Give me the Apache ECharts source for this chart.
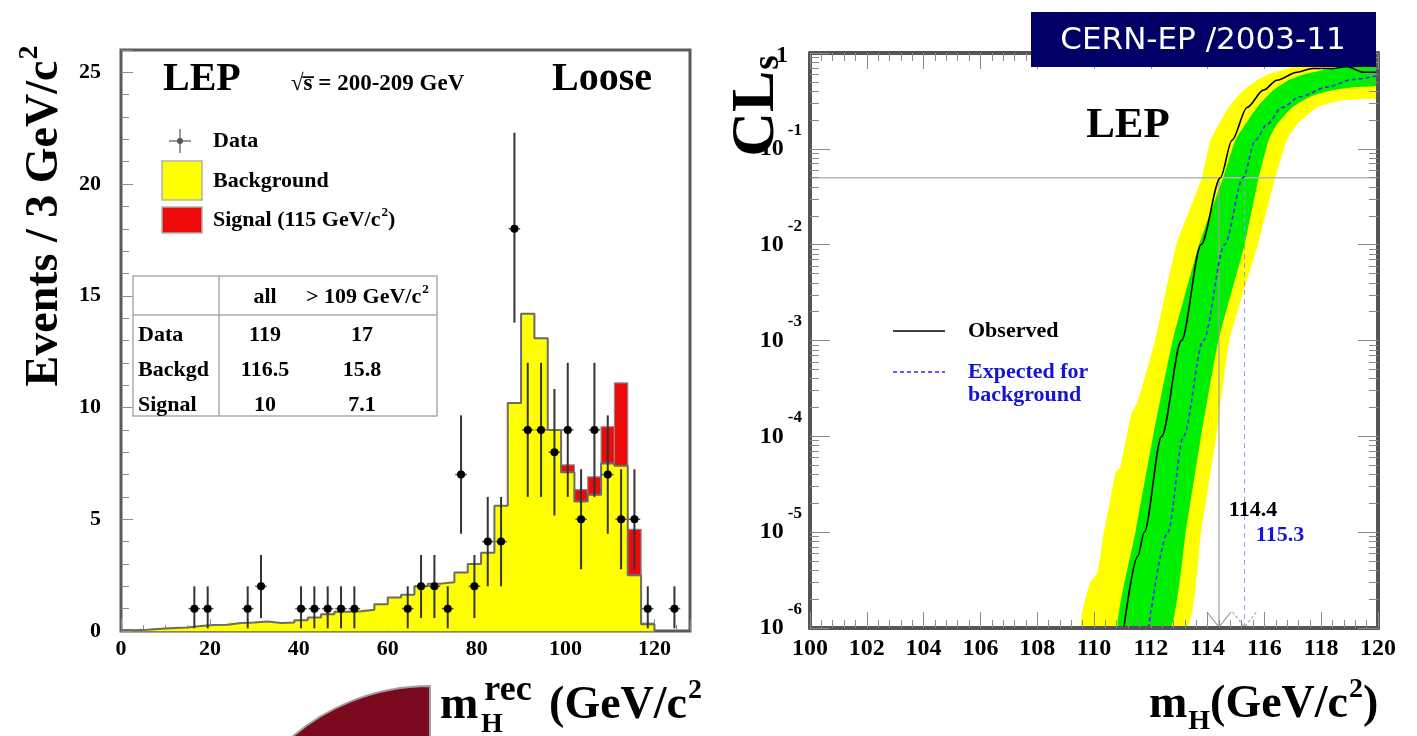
<!DOCTYPE html>
<html><head><meta charset="utf-8">
<script src="https://cdn.jsdelivr.net/npm/echarts@6/dist/echarts.min.js"></script>
<style>html,body{margin:0;padding:0;background:#fff;}#c{width:1417px;height:736px;}</style>
</head><body><div id="c"></div>
<script>
const FONT = 'Liberation Serif';

// ---------------- LEFT PANEL: reconstructed mass histogram (3 GeV bins) ----------------
const binStart = [0,3,6,9,12,15,18,21,24,27,30,33,36,39,42,45,48,51,54,57,60,63,66,69,72,75,78,81,84,87,90,93,96,99,102,105,108,111,114,117];
const binWidth = 3;
const backgroundCounts = [0.03,0.06,0.10,0.13,0.16,0.22,0.27,0.28,0.36,0.38,0.43,0.36,0.38,0.48,0.60,0.75,0.86,0.88,0.95,1.20,1.50,1.62,2.00,2.12,2.18,2.62,3.00,3.50,5.60,10.2,14.2,13.1,9.00,7.10,5.80,6.10,7.50,7.40,2.50,0.30];
const signalCounts = [0,0,0,0,0,0,0,0,0,0,0,0,0,0,0,0,0,0,0,0,0,0,0,0,0,0,0,0,0,0,0,0,0,0.33,0.53,0.80,1.64,3.70,2.05,0.05];
const dataMass = [16.5,19.5,28.5,31.5,40.5,43.5,46.5,49.5,52.5,64.5,67.5,70.5,73.5,76.5,79.5,82.5,85.5,88.5,91.5,94.5,97.5,100.5,103.5,106.5,109.5,112.5,115.5,118.5,124.5];
const dataCounts = [1,1,1,2,1,1,1,1,1,1,2,2,1,7,2,4,4,18,9,9,8,9,5,9,7,5,5,1,1];
const dataErrLow = [0.12,0.12,0.12,0.58,0.12,0.12,0.12,0.12,0.12,0.12,0.58,0.58,0.12,4.35,0.58,2.0,2.0,13.8,6.0,6.0,5.17,6.0,2.76,6.0,4.35,2.76,2.76,0.12,0.12];
const dataErrHigh = [2.0,2.0,2.0,3.4,2.0,2.0,2.0,2.0,2.0,2.0,3.4,3.4,2.0,9.65,3.4,6.0,6.0,22.3,12.0,12.0,10.83,12.0,7.24,12.0,9.65,7.24,7.24,2.0,2.0];
const tableHeader = ['all', '> 109 GeV/c'];
const tableRows = ['Data', 'Backgd', 'Signal'];
const tableAll = ['119', '116.5', '10'];
const tableHigh = ['17', '15.8', '7.1'];

// ---------------- RIGHT PANEL: CLs vs mH ----------------
const yellowUpperM  = [109.57,109.85,110.12,110.31,110.77,110.92,111.31,111.54,112.15,112.9,113.8,114.1,114.74,115.27,115.74,116.2,116.97,117.6,120];
const yellowUpperCL = [1e-6,2.95e-6,3.8e-6,8.5e-6,4.3e-5,4.7e-5,1.7e-4,2.3e-4,1e-3,1e-2,0.05,0.123,0.27,0.41,0.52,0.61,0.71,0.9,0.95];
const yellowLowerM  = [113.26,113.77,114.31,114.77,115.77,116.38,116.79,117.15,117.85,118.67,119.5,120];
const yellowLowerCL = [1e-6,1e-5,1e-4,1e-3,1e-2,0.05,0.123,0.18,0.27,0.32,0.33,0.34];
const greenUpperM   = [110.85,111.46,112.08,112.77,113.7,114.55,114.98,115.74,116.32,116.85,117.5,118.4,120];
const greenUpperCL  = [1e-6,1e-5,1e-4,1e-3,1e-2,0.05,0.123,0.27,0.41,0.52,0.61,0.69,0.74];
const greenLowerM   = [112.69,113.23,113.77,114.38,115.3,115.8,116.15,116.44,116.97,117.61,118.43,119.13,120];
const greenLowerCL  = [1e-6,1e-5,1e-4,1e-3,1e-2,0.05,0.123,0.18,0.27,0.35,0.41,0.44,0.46];
const observedM  = [111.05,111.54,111.77,112.38,113.08,113.77,114.45,114.86,115.39,115.97,116.44,117.15,117.7,118.4,118.9,119.5,120];
const observedCL = [1e-6,5.6e-6,1e-5,1e-4,1e-3,1e-2,0.05,0.123,0.27,0.41,0.52,0.63,0.69,0.69,0.72,0.63,0.63];
const expectedM  = [111.92,112.6,113.15,113.85,114.6,115.25,115.68,116.09,116.62,117.26,118.2,119.13,120];
const expectedCL = [1e-6,1e-5,1e-4,1e-3,1e-2,0.05,0.123,0.18,0.27,0.35,0.44,0.53,0.58];
const clsLimit = 0.05;
const observedLimit = 114.4;
const expectedLimit = 115.3;

// ---------------- helpers ----------------
const chart = echarts.init(document.getElementById('c'), null, {renderer: 'canvas'});
const bold = (size, color) => ({fontFamily: FONT, fontWeight: 'bold', fontSize: size, fill: color || '#000'});
// middle-aligned rich tokens; sup/sub shifted via asymmetric padding
function richSet(base, color, subShift) {
  const c = color || '#000';
  const small = Math.round(base * 0.6);
  const up = Math.round(base * 0.33);
  const down = Math.round(base * (subShift || 0.37));
  return {
    a: {fontFamily: FONT, fontWeight: 'bold', fontSize: base, lineHeight: base, color: c},
    p: {fontFamily: FONT, fontWeight: 'bold', fontSize: small, lineHeight: small, color: c, padding: [0, 0, 2 * up, 1]},
    s: {fontFamily: FONT, fontWeight: 'bold', fontSize: small, lineHeight: small, color: c, padding: [2 * down, 0, 0, 1]},
    r: {fontFamily: FONT, fontWeight: 'bold', fontSize: Math.round(base * 0.78), lineHeight: Math.round(base * 0.78), color: c, padding: [0, 6, 2 * up, 6]}
  };
}
function txt(x, y, text, size, opt) {
  opt = opt || {};
  return {type: 'text', x: x, y: y, rotation: opt.rotation || 0, z: 50,
    style: Object.assign(bold(size, opt.color), {text: text, align: opt.align || 'left', verticalAlign: 'middle',
      rich: opt.rich ? richSet(size, opt.color, opt.subShift) : undefined})};
}
function band(upM, upC, loM, loC, color) {
  return {type: 'custom', xAxisIndex: 1, yAxisIndex: 1, clip: true, silent: true, z: 1,
    data: [[upM[0], upC[0]]],
    renderItem: function (params, api) {
      const pts = [];
      for (let i = 0; i < upM.length; i++) pts.push(api.coord([upM[i], upC[i]]));
      for (let i = loM.length - 1; i >= 0; i--) pts.push(api.coord([loM[i], loC[i]]));
      return {type: 'polygon', shape: {points: pts, smooth: 0.15}, style: {fill: color}};
    }};
}

const histRows = binStart.map((s, i) => [s, s + binWidth, backgroundCounts[i], signalCounts[i]]);
const outline = binStart.map((s, i) => [s, backgroundCounts[i]]).concat([[binStart[binStart.length - 1] + binWidth, 0]]);
const pointRows = dataMass.map((m, i) => [m, dataCounts[i], dataErrLow[i], dataErrHigh[i]]);

const tickGray = '#8a8a8a';
const frame = {show: true, lineStyle: {color: '#555', width: 4}};

const option = {
  animation: false,
  backgroundColor: '#fff',
  grid: [
    {left: 121, top: 50, width: 569, height: 581, show: true, borderColor: '#5a5a5a', borderWidth: 3, backgroundColor: 'transparent'},
    {left: 810, top: 53, width: 568, height: 575, show: false}
  ],
  xAxis: [
    {gridIndex: 0, type: 'value', min: 0, max: 128, interval: 20, axisLine: {show: false},
     axisTick: {inside: true, length: 12, lineStyle: {color: tickGray}},
     minorTick: {show: true, splitNumber: 4, length: 6, lineStyle: {color: tickGray}},
     splitLine: {show: false},
     axisLabel: {margin: 7, showMaxLabel: false, fontFamily: FONT, fontWeight: 'bold', fontSize: 22, color: '#000'}},
    {gridIndex: 1, type: 'value', min: 100, max: 120, interval: 2, z: 10, axisLine: frame,
     axisTick: {inside: true, length: 16, lineStyle: {color: tickGray}},
     minorTick: {show: true, splitNumber: 5, length: 8, lineStyle: {color: tickGray}},
     splitLine: {show: false},
     axisLabel: {margin: 9, fontFamily: FONT, fontWeight: 'bold', fontSize: 24, color: '#000'}},
    {gridIndex: 1, type: 'value', position: 'top', min: 100, max: 120, interval: 2, z: 10, axisLine: frame,
     axisTick: {inside: true, length: 16, lineStyle: {color: tickGray}},
     minorTick: {show: true, splitNumber: 5, length: 8, lineStyle: {color: tickGray}},
     splitLine: {show: false}, axisLabel: {show: false}}
  ],
  yAxis: [
    {gridIndex: 0, type: 'value', min: 0, max: 26, interval: 5, axisLine: {show: false},
     axisTick: {inside: true, length: 12, lineStyle: {color: tickGray}},
     minorTick: {show: true, splitNumber: 5, length: 8, lineStyle: {color: tickGray}},
     splitLine: {show: false},
     axisLabel: {margin: 20, showMaxLabel: false, fontFamily: FONT, fontWeight: 'bold', fontSize: 22, color: '#000'}},
    {gridIndex: 1, type: 'log', logBase: 10, min: 1e-6, max: 1, z: 10, axisLine: frame,
     axisTick: {inside: true, length: 20, lineStyle: {color: tickGray}},
     minorTick: {show: true, splitNumber: 9, length: 9, lineStyle: {color: tickGray}},
     splitLine: {show: false},
     axisLabel: {margin: 8, color: '#000',
       formatter: function (v) { const e = Math.round(Math.log10(v)); return e === 0 ? '{o|1}' : '{b|10}{e|' + e + '}'; },
       rich: {
         b: {fontFamily: FONT, fontWeight: 'bold', fontSize: 24, lineHeight: 24, color: '#000'},
         e: {fontFamily: FONT, fontWeight: 'bold', fontSize: 17, lineHeight: 17, color: '#000', padding: [0, 0, 37, 4]},
         o: {fontFamily: FONT, fontWeight: 'bold', fontSize: 24, lineHeight: 24, color: '#000', padding: [6, 14, 0, 0]}
       }}},
    {gridIndex: 1, type: 'log', logBase: 10, position: 'right', min: 1e-6, max: 1, z: 10, axisLine: frame,
     axisTick: {inside: true, length: 20, lineStyle: {color: tickGray}},
     minorTick: {show: true, splitNumber: 9, length: 9, lineStyle: {color: tickGray}},
     splitLine: {show: false}, axisLabel: {show: false}}
  ],
  series: [
    // ---- left: stacked background + signal histogram
    {type: 'custom', xAxisIndex: 0, yAxisIndex: 0, data: histRows, encode: {x: [0, 1], y: 2}, z: 2, silent: true,
     renderItem: function (params, api) {
       const s = api.value(0), e = api.value(1), b = api.value(2), g = api.value(3);
       const p0 = api.coord([s, 0]), p1 = api.coord([e, b]), p2 = api.coord([e, b + g]);
       const w = p1[0] - p0[0];
       const ch = [{type: 'rect', shape: {x: p0[0], y: p1[1], width: w, height: p0[1] - p1[1]}, style: {fill: '#ffff00', stroke: '#ffff00', lineWidth: 0.6}}];
       if (g > 0.02) ch.push({type: 'rect', shape: {x: p0[0], y: p2[1], width: w, height: p1[1] - p2[1]}, style: {fill: '#ee0a0a', stroke: '#8a8a8a', lineWidth: 1.2}});
       return {type: 'group', children: ch};
     }},
    {type: 'line', xAxisIndex: 0, yAxisIndex: 0, data: outline, step: 'end', symbol: 'none', z: 3, silent: true,
     lineStyle: {color: '#6a6a6a', width: 2}},
    // ---- left: data points with error bars
    {type: 'custom', xAxisIndex: 0, yAxisIndex: 0, data: pointRows, encode: {x: 0, y: 1}, z: 5, silent: true,
     renderItem: function (params, api) {
       const x = api.value(0), n = api.value(1), lo = api.value(2), hi = api.value(3);
       const c = api.coord([x, n]), a = api.coord([x, lo]), b = api.coord([x, hi]);
       const l = api.coord([x - 1.3, n]), r = api.coord([x + 1.3, n]);
       return {type: 'group', children: [
         {type: 'line', shape: {x1: a[0], y1: a[1], x2: b[0], y2: b[1]}, style: {stroke: '#333', lineWidth: 2}},
         {type: 'line', shape: {x1: l[0], y1: l[1], x2: r[0], y2: r[1]}, style: {stroke: '#555', lineWidth: 1.5}},
         {type: 'circle', shape: {cx: c[0], cy: c[1], r: 4}, style: {fill: '#000'}}
       ]};
     }},
    // ---- right: bands
    band(yellowUpperM, yellowUpperCL, yellowLowerM, yellowLowerCL, '#ffff00'),
    band(greenUpperM, greenUpperCL, greenLowerM, greenLowerCL, '#00ee00'),
    // 95% CL line and limits
    {type: 'line', xAxisIndex: 1, yAxisIndex: 1, data: [[100, clsLimit], [120, clsLimit]], symbol: 'none', z: 3, silent: true,
     lineStyle: {color: '#b5b5b5', width: 1.5}},
    {type: 'line', xAxisIndex: 1, yAxisIndex: 1, data: [[observedLimit, 1e-6], [observedLimit, clsLimit]], symbol: 'none', z: 3, silent: true,
     lineStyle: {color: '#a0a0a0', width: 1.2}},
    {type: 'line', xAxisIndex: 1, yAxisIndex: 1, data: [[expectedLimit, 1e-6], [expectedLimit, clsLimit]], symbol: 'none', z: 3, silent: true,
     lineStyle: {color: '#9a9aee', width: 1, type: [5, 4]}},
    {type: 'custom', xAxisIndex: 1, yAxisIndex: 1, data: [[observedLimit, 1e-6, 0], [expectedLimit, 1e-6, 1]], encode: {x: 0, y: 1}, z: 4, silent: true,
     renderItem: function (params, api) {
       const p = api.coord([api.value(0), api.value(1)]);
       const isExp = api.value(2) === 1;
       return {type: 'polyline', shape: {points: [[p[0] - 12, p[1] - 16], [p[0], p[1] - 1], [p[0] + 12, p[1] - 16]]},
         style: {stroke: isExp ? '#aab' : '#999', lineWidth: 1.2, lineDash: isExp ? [3, 2] : null, fill: null}};
     }},
    // observed and expected CLs
    {type: 'line', xAxisIndex: 1, yAxisIndex: 1, data: expectedM.map((m, i) => [m, expectedCL[i]]), symbol: 'none', z: 5, silent: true,
     smooth: 0.3, smoothMonotone: 'x', lineStyle: {color: '#2a2aff', width: 1.6, type: [4, 3]}},
    {type: 'line', xAxisIndex: 1, yAxisIndex: 1, data: observedM.map((m, i) => [m, observedCL[i]]), symbol: 'none', z: 6, silent: true,
     smooth: 0.3, smoothMonotone: 'x', lineStyle: {color: '#000', width: 1.6}}
  ],
  graphic: [
    // decorative slide element
    {type: 'sector', shape: {cx: 430, cy: 898, r: 212, r0: 0, startAngle: Math.PI, endAngle: Math.PI * 1.5, clockwise: true},
     style: {fill: '#7b0a1f', stroke: '#a0a0a0', lineWidth: 2}, z: 1},
    // left panel texts
    txt(163, 80, 'LEP', 40),
    txt(291, 84, '\u221As\u0305 = 200-209 GeV', 23),
    txt(552, 80, 'Loose', 40),
    {type: 'line', shape: {x1: 180, y1: 129, x2: 180, y2: 153}, style: {stroke: '#555', lineWidth: 1.2}, z: 50},
    {type: 'line', shape: {x1: 169, y1: 141, x2: 191, y2: 141}, style: {stroke: '#555', lineWidth: 1.2}, z: 50},
    {type: 'circle', shape: {cx: 180, cy: 141, r: 3}, style: {fill: '#555'}, z: 50},
    txt(213, 141, 'Data', 22),
    {type: 'rect', shape: {x: 162, y: 161, width: 40, height: 39}, style: {fill: '#ffff00', stroke: '#b0b0b0', lineWidth: 1.5}, z: 50},
    txt(213, 181, 'Background', 22),
    {type: 'rect', shape: {x: 162, y: 207, width: 40, height: 26}, style: {fill: '#ee0a0a', stroke: '#b0b0b0', lineWidth: 1.5}, z: 50},
    txt(213, 220, '{a|Signal (115 GeV/c}{p|2}{a|)}', 22, {rich: true}),
    // table
    {type: 'rect', shape: {x: 133, y: 276, width: 304, height: 140}, style: {fill: null, stroke: '#aaa', lineWidth: 1.5}, z: 50},
    {type: 'line', shape: {x1: 219, y1: 276, x2: 219, y2: 416}, style: {stroke: '#aaa', lineWidth: 1.5}, z: 50},
    {type: 'line', shape: {x1: 133, y1: 315, x2: 437, y2: 315}, style: {stroke: '#aaa', lineWidth: 1.5}, z: 50},
    txt(265, 297, tableHeader[0], 22, {align: 'center'}),
    txt(306, 297, '{a|' + tableHeader[1] + '}{p|2}', 22, {rich: true}),
    txt(138, 335, tableRows[0], 22), txt(138, 370, tableRows[1], 22), txt(138, 405, tableRows[2], 22),
    txt(265, 335, tableAll[0], 22, {align: 'center'}), txt(265, 370, tableAll[1], 22, {align: 'center'}), txt(265, 405, tableAll[2], 22, {align: 'center'}),
    txt(362, 335, tableHigh[0], 22, {align: 'center'}), txt(362, 370, tableHigh[1], 22, {align: 'center'}), txt(362, 405, tableHigh[2], 22, {align: 'center'}),
    // axis titles
    txt(45, 216, '{a|Events / 3 GeV/c}{p|2}', 46, {rich: true, align: 'center', rotation: Math.PI / 2}),
    txt(440, 706, '{a|m}{r|rec}{a| (GeV/c}{p|2}', 46, {rich: true}),
    txt(481, 725, 'H', 28),
    txt(757, 106, '{a|CL}{s|s}', 62, {rich: true, align: 'center', rotation: Math.PI / 2, subShift: 0.18}),
    txt(1149, 705, '{a|m}{s|H}{a|(GeV/c}{p|2}{a|)}', 46, {rich: true}),
    // right panel texts
    txt(1128, 126, 'LEP', 43, {align: 'center'}),
    {type: 'line', shape: {x1: 893, y1: 331, x2: 945, y2: 331}, style: {stroke: '#000', lineWidth: 1.6}, z: 50},
    txt(968, 331, 'Observed', 22),
    {type: 'line', shape: {x1: 893, y1: 372, x2: 945, y2: 372}, style: {stroke: '#2a2aff', lineWidth: 1.6, lineDash: [4, 3]}, z: 50},
    txt(968, 372, 'Expected for', 22, {color: '#1414d8'}),
    txt(968, 395, 'background', 22, {color: '#1414d8'}),
    txt(1253, 510, '114.4', 22, {align: 'center'}),
    txt(1280, 535, '115.3', 22, {align: 'center', color: '#1414d8'}),
    // report number banner
    {type: 'rect', shape: {x: 1031, y: 12, width: 345, height: 55}, style: {fill: '#000066'}, z: 90},
    {type: 'text', x: 1203, y: 41, z: 91, style: {text: 'CERN-EP /2003-11', fontFamily: 'DejaVu Sans', fontSize: 31, fill: '#fff', align: 'center', verticalAlign: 'middle'}}
  ]
};
chart.setOption(option);
</script>
</body></html>
